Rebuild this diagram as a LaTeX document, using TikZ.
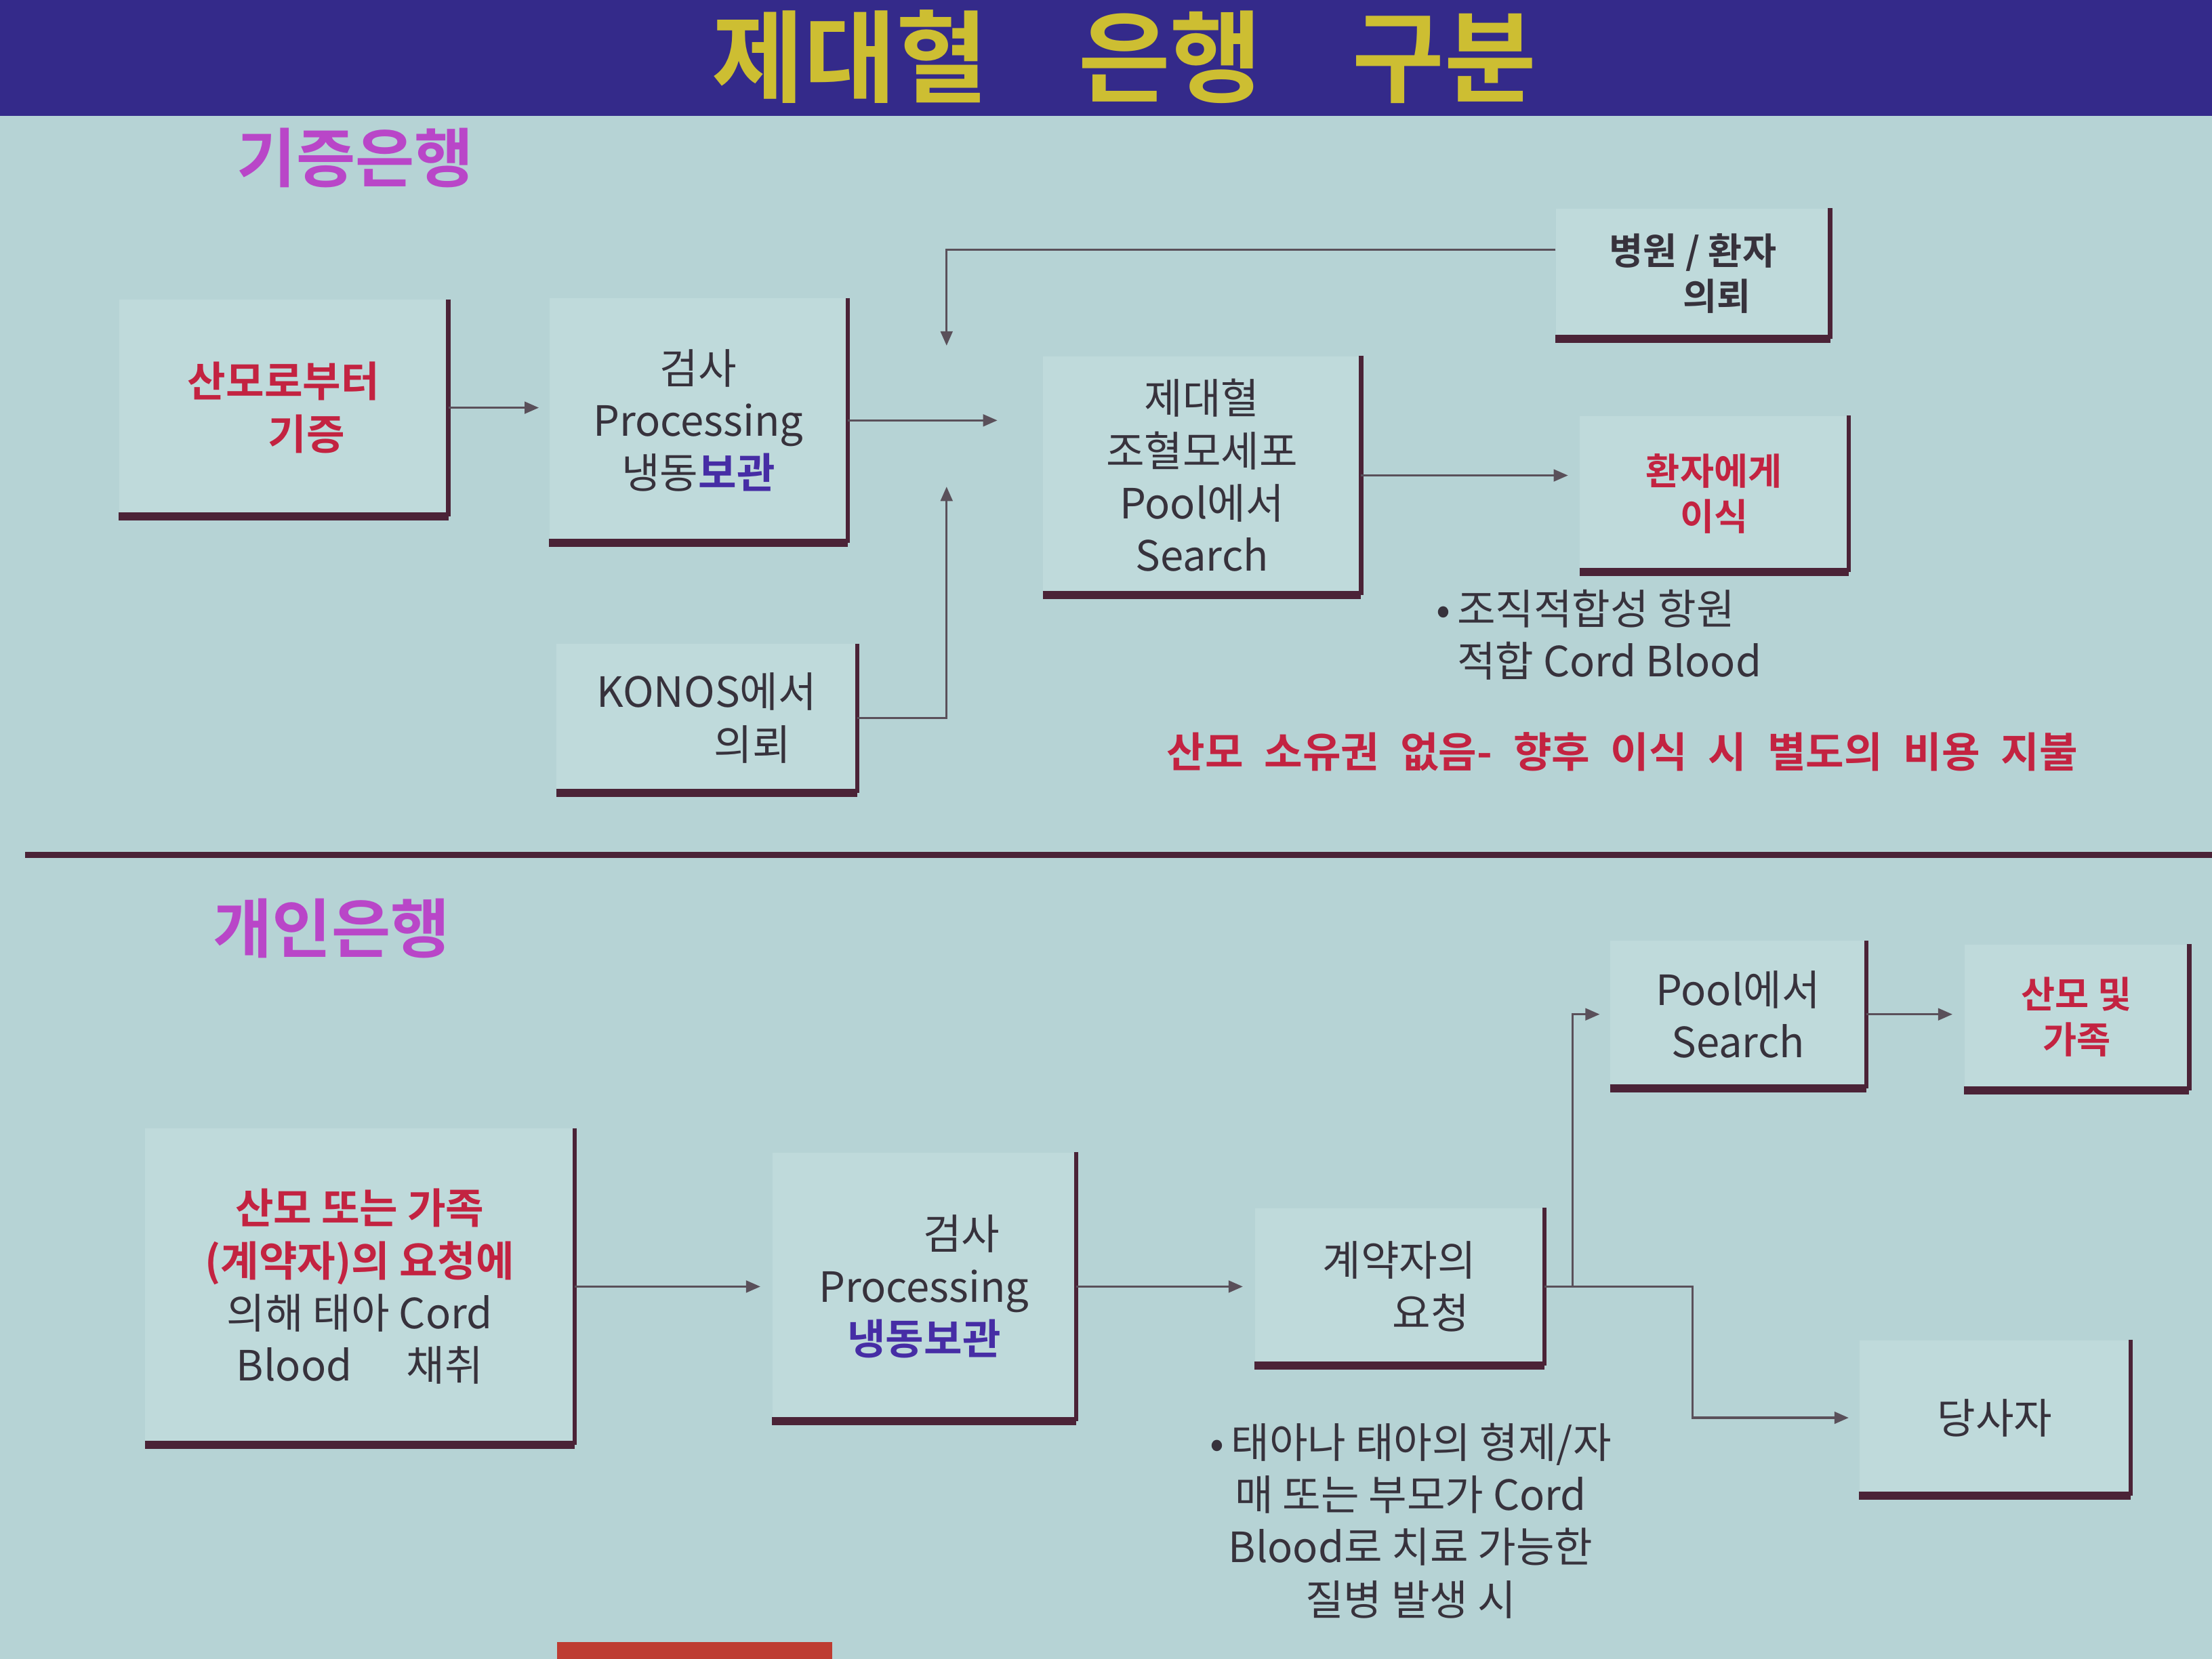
\documentclass[tikz,border=0pt]{standalone}
\usepackage{fontspec}
\setmainfont{Noto Sans CJK KR}[BoldFont={Noto Sans CJK KR Bold}]
\usetikzlibrary{arrows.meta}
\definecolor{cfond}{RGB}{182,211,213}
\definecolor{cboite}{RGB}{191,218,219}
\definecolor{cbande}{RGB}{52,42,138}
\definecolor{cjaune}{RGB}{205,190,50}
\definecolor{cmagenta}{RGB}{185,70,200}
\definecolor{crouge}{RGB}{195,35,65}
\definecolor{cbleu}{RGB}{70,45,165}
\definecolor{ctexte}{RGB}{55,50,60}
\definecolor{cligne}{RGB}{75,35,55}
\definecolor{cfleche}{RGB}{90,80,90}
\definecolor{cobjet}{RGB}{190,60,50}
\newcommand{\pxl}{0.020816cm}
\tikzset{
  boite/.style 2 args={fill=cboite, inner sep=0pt, align=center, text=ctexte,
    minimum width=#1*\pxl, minimum height=#2*\pxl, font=\fontsize{17.5}{22}\selectfont},
  rgras/.style={text=crouge, font=\fontsize{17.5}{22}\selectfont\bfseries},
  petitgras/.style={font=\fontsize{15.5}{19}\selectfont\bfseries},
  banque/.style={text=cmagenta, font=\fontsize{27}{30}\selectfont\bfseries},
  remarque/.style={text=ctexte, font=\fontsize{17.5}{22}\selectfont},
  cote/.style={cligne, line width=1.8pt},
  socle/.style={cligne, line width=3.4pt},
  fl/.style={cfleche, line width=0.9pt, -{Triangle[length=6pt,width=5pt]}}
}
\begin{document}
\begin{tikzpicture}[x=0.020816cm, y=-0.020816cm, >=Stealth]
\useasboundingbox (0,0) rectangle (1568,1176);
\fill[cfond] (0,0) rectangle (1568,1176);
\fill[cbande] (0,0) rectangle (1568,82);
\node[cjaune, font=\fontsize{42}{42}\selectfont\bfseries] (titre) at (797,40)
  {제대혈\hspace{0.9em}은행\hspace{0.9em}구분};
% donor bank
\node[banque] (ban1) at (252,112) {기증은행};
\node[boite={233}{153}, rgras] (don) at (201,289) {산모로부터\\\hspace*{1.1em}기증};
\node[boite={211}{173}] (proc1) at (495,298) {검사\\Processing\\냉동{\color{cbleu}\bfseries 보관}};
\node[boite={213}{105}] (konos) at (501,509) {KONOS에서\\\hspace*{2.2em}의뢰};
\node[boite={225}{169}] (pool1) at (852,337) {제대혈\\조혈모세포\\Pool에서\\Search};
\node[boite={194}{92}, petitgras] (hop) at (1200,194) {병원 / 환자\\\hspace*{1.3em}의뢰};
\node[boite={190}{110}, petitgras, text=crouge] (greffe) at (1215,350) {환자에게\\이식};
\node[remarque, align=left, anchor=west] (hla) at (1012,450)
  {•\,조직적합성 항원\\\hphantom{•\,}적합 Cord Blood};
\node[rgras] (cout) at (1150,533)
  {산모\enspace 소유권\enspace 없음-\enspace 향후\enspace 이식\enspace 시\enspace 별도의\enspace 비용\enspace 지불};
\draw[cligne, line width=2.6pt] (18,606) -- (1568,606);
% private bank
\node[banque] (ban2) at (235,658) {개인은행};
\node[boite={304}{224}] (demande) at (255,912)
  {{\color{crouge}\bfseries 산모 또는 가족}\\{\color{crouge}\bfseries (계약자)의 요청에}\\의해 태아 Cord\\Blood\hspace{1.3em}채취};
\node[boite={215}{190}] (proc2) at (655,912)
  {\hspace*{1.8em}검사\\Processing\\{\color{cbleu}\bfseries 냉동보관}};
\node[boite={205}{111}] (contrat) at (992,912) {계약자의\\\hspace*{1.5em}요청};
\node[boite={181}{104}] (pool2) at (1232,719) {Pool에서\\Search};
\node[boite={159}{103}, petitgras, text=crouge] (famille) at (1472,721) {산모 및\\가족};
\node[boite={192}{110}] (soi) at (1414,1005) {당사자};
\node[remarque, align=center] (maladie) at (1000,1078)
  {•\,태아나 태아의 형제/자\\매 또는 부모가 Cord\\Blood로 치료 가능한\\질병 발생 시};
\foreach \b in {don,proc1,konos,pool1,hop,greffe,demande,proc2,contrat,pool2,famille,soi}
  {\draw[cote] (\b.north east) -- (\b.south east);
   \draw[socle] (\b.south west) -- (\b.south east);}
% arrows, donor bank
\coordinate (jh) at (671,245); \coordinate (jb) at (671,345);
\draw[fl, shorten >=1.5mm] (don.east) -- (don.east -| proc1.west);
\draw[fl, shorten >=6.7mm] (proc1.east) -- (proc1.east -| pool1.west);
\draw[fl] (hop.170) -| (jh);
\draw[fl] (konos.east) -| (jb);
\draw[fl, shorten >=1.7mm] (pool1.east) -- (pool1.east -| greffe.west);
% arrows, private bank
\draw[fl, shorten >=1.7mm] (demande.east) -- (demande.east -| proc2.west);
\draw[fl, shorten >=1.7mm] (proc2.east) -- (proc2.east -| contrat.west);
\draw[fl, shorten >=1.5mm] (contrat.east) -- ++(105,0) |- (soi.west);
\draw[fl, shorten >=1.5mm] (contrat.east) -- ++(20,0) |- (pool2.west);
\draw[fl, shorten >=1.7mm] (pool2.east) -- (pool2.east -| famille.west);
\fill[cobjet] (395,1164) rectangle (590,1176);
\end{tikzpicture}
\end{document}
